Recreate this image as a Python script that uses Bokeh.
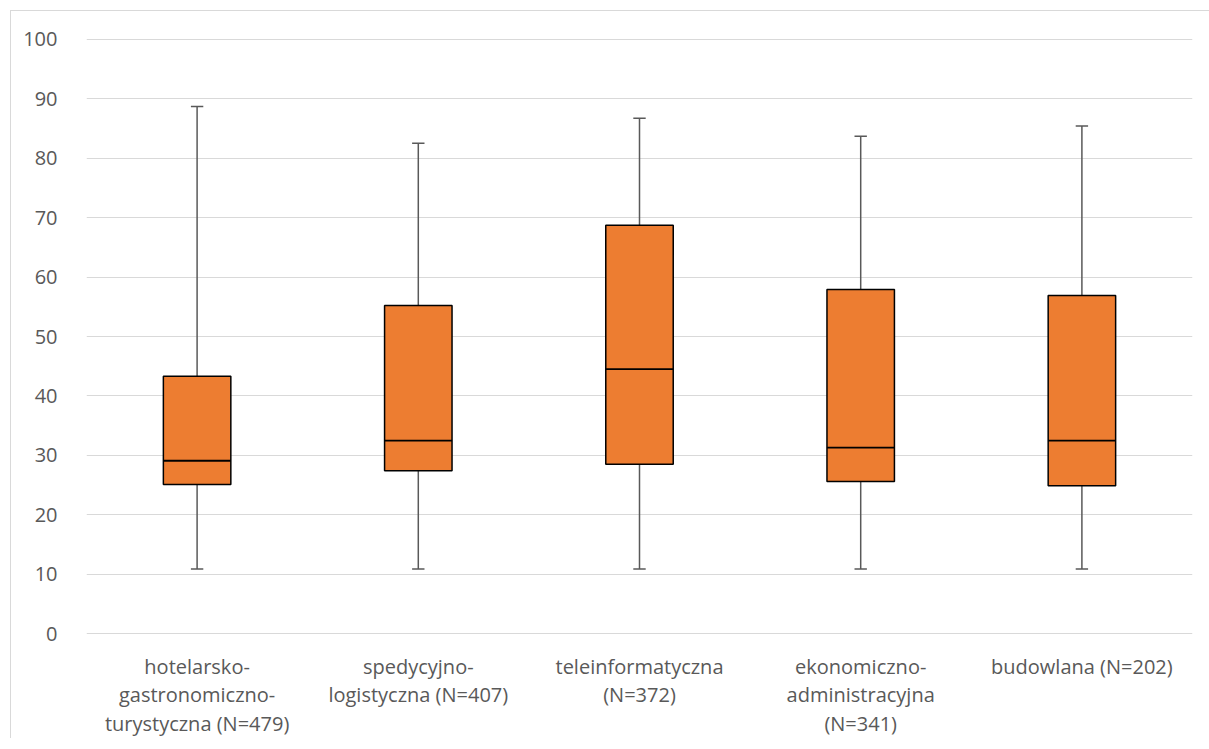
from bokeh.plotting import figure
from bokeh.models import FactorRange, Range1d, FixedTicker, ColumnDataSource
from bokeh.transform import dodge
from bokeh.embed import file_html
from bokeh.resources import INLINE

categories = [
    "hotelarsko-\ngastronomiczno-\nturystyczna (N=479)",
    "spedycyjno-\nlogistyczna (N=407)",
    "teleinformatyczna\n(N=372)",
    "ekonomiczno-\nadministracyjna\n(N=341)",
    "budowlana (N=202)",
]
mins = [10.9, 10.9, 10.9, 10.9, 10.9]
q1 = [25.1, 27.4, 28.5, 25.6, 24.9]
med = [29.1, 32.5, 44.5, 31.3, 32.5]
q3 = [43.3, 55.2, 68.7, 57.9, 56.9]
maxs = [88.7, 82.5, 86.7, 83.7, 85.4]
y_ticks = [0, 10, 20, 30, 40, 50, 60, 70, 80, 90, 100]

FONT = "Open Sans"
TXT = "#595959"

p = figure(width=1199, height=728, x_range=FactorRange(*categories), y_range=Range1d(-0.3, 100.3),
           output_backend="svg", toolbar_location=None,
           min_border_left=75, min_border_right=18, min_border_top=26, min_border_bottom=100)
p.outline_line_color = None
p.styles = {"margin-left": "10px", "margin-top": "10px",
            "border-left": "1px solid #d9d9d9", "border-top": "1px solid #d9d9d9"}

src = ColumnDataSource(dict(cat=categories, mins=mins, q1=q1, med=med, q3=q3, maxs=maxs))

# whiskers
p.segment(x0="cat", x1="cat", y0="q3", y1="maxs", source=src, line_color="#595959", line_width=1.5)
p.segment(x0="cat", x1="cat", y0="q1", y1="mins", source=src, line_color="#595959", line_width=1.5)
p.segment(x0=dodge("cat", -0.028, range=p.x_range), x1=dodge("cat", 0.028, range=p.x_range),
          y0="maxs", y1="maxs", source=src, line_color="#595959", line_width=1.5)
p.segment(x0=dodge("cat", -0.028, range=p.x_range), x1=dodge("cat", 0.028, range=p.x_range),
          y0="mins", y1="mins", source=src, line_color="#595959", line_width=1.5)

# boxes
p.vbar(x="cat", width=0.305, bottom="q1", top="q3", source=src,
       fill_color="#ED7D31", line_color="black", line_width=1.5)
p.segment(x0=dodge("cat", -0.1525, range=p.x_range), x1=dodge("cat", 0.1525, range=p.x_range),
          y0="med", y1="med", source=src, line_color="black", line_width=1.8)

p.xgrid.grid_line_color = None
p.ygrid.grid_line_color = "#d9d9d9"
p.ygrid.grid_line_width = 1.2
p.yaxis.ticker = FixedTicker(ticks=y_ticks)

for ax in (p.xaxis, p.yaxis):
    ax.axis_line_color = None
    ax.major_tick_line_color = None
    ax.minor_tick_line_color = None
    ax.major_label_text_font = FONT
    ax.major_label_text_font_size = "20px"
    ax.major_label_text_color = TXT

p.yaxis.major_label_standoff = 23
p.xaxis.major_label_standoff = 11
p.xaxis.major_label_text_line_height = 1.06

open("out.html", "w").write(file_html(p, INLINE))
